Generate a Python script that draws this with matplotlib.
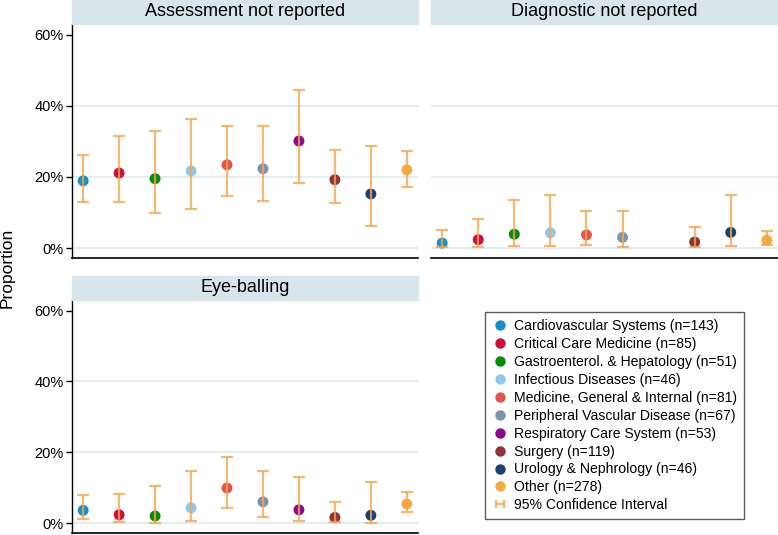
import matplotlib
matplotlib.use("Agg")
import matplotlib.pyplot as plt
from matplotlib.lines import Line2D
from matplotlib.patches import Rectangle
from matplotlib.legend_handler import HandlerLine2D
from matplotlib.ticker import PercentFormatter
import numpy as np

plt.rcParams['font.family'] = ['Liberation Sans', 'DejaVu Sans']

categories = ["Cardiovascular Systems (n=143)", "Critical Care Medicine (n=85)",
              "Gastroenterol. & Hepatology (n=51)", "Infectious Diseases (n=46)",
              "Medicine, General & Internal (n=81)", "Peripheral Vascular Disease (n=67)",
              "Respiratory Care System (n=53)", "Surgery (n=119)",
              "Urology & Nephrology (n=46)", "Other (n=278)"]
colors = ["#1b8ec2", "#c8113d", "#078a07", "#8fc8ea", "#e0554d",
          "#7d93aa", "#8a0a8a", "#8c3337", "#1c416e", "#f2ac42"]

panel_titles = ["Assessment not reported", "Diagnostic not reported", "Eye-balling"]

# proportions and 95% CI (lower, upper)
assess_p = [0.189, 0.211, 0.195, 0.217, 0.234, 0.223, 0.301, 0.192, 0.152, 0.220]
assess_lo = [0.129, 0.130, 0.099, 0.109, 0.147, 0.131, 0.184, 0.128, 0.063, 0.173]
assess_hi = [0.263, 0.314, 0.330, 0.364, 0.342, 0.342, 0.444, 0.275, 0.288, 0.273]

diag_p = [0.014, 0.0235, 0.039, 0.043, 0.037, 0.030, np.nan, 0.017, 0.044, 0.022]
diag_lo = [0.002, 0.003, 0.005, 0.0056, 0.0075, 0.004, np.nan, 0.002, 0.0056, 0.008]
diag_hi = [0.050, 0.083, 0.135, 0.149, 0.105, 0.104, np.nan, 0.060, 0.149, 0.047]

eye_p = [0.036, 0.0235, 0.020, 0.043, 0.099, 0.060, 0.0375, 0.016, 0.022, 0.054]
eye_lo = [0.012, 0.003, 0.001, 0.0056, 0.043, 0.017, 0.005, 0.002, 0.001, 0.031]
eye_hi = [0.079, 0.083, 0.104, 0.147, 0.186, 0.146, 0.130, 0.060, 0.116, 0.088]

ci_color = "#f4a650"
grid_color = "#e3ecf1"
strip_color = "#d9e5ec"

W, H = 778, 535
fig = plt.figure(figsize=(W / 100, H / 100), dpi=100)


def make_ax(x0, x1, ytop, ybot):
    return fig.add_axes([x0 / W, 1 - ybot / H, (x1 - x0) / W, (ybot - ytop) / H])


panels = [
    (make_ax(72, 418, 24, 258), assess_p, assess_lo, assess_hi, True),
    (make_ax(431, 778, 24, 258), diag_p, diag_lo, diag_hi, False),
    (make_ax(72, 418, 300, 533), eye_p, eye_lo, eye_hi, True),
]

x = np.arange(1, len(categories) + 1)
for (ax, p, lo, hi, show_y), title in zip(panels, panel_titles):
    p = np.array(p)
    lo = np.array(lo)
    hi = np.array(hi)
    ax.scatter(x, p, s=62, c=colors, zorder=3, linewidths=0)
    ax.errorbar(x, p, yerr=[p - lo, hi - p], fmt='none', ecolor=ci_color,
                elinewidth=1.6, capsize=4.5, capthick=1.6, alpha=0.8, zorder=4)
    ax.set_xlim(0.69, 10.31)
    ax.set_ylim(-0.028, 0.63)
    ax.set_yticks([0, 0.2, 0.4, 0.6])
    ax.yaxis.set_major_formatter(PercentFormatter(1.0, decimals=0))
    ax.set_xticks([])
    ax.grid(axis='y', color=grid_color, linewidth=1.5, zorder=0)
    ax.yaxis.get_gridlines()[-1].set_visible(False)
    ax.set_axisbelow(True)
    for s in ['top', 'right']:
        ax.spines[s].set_visible(False)
    ax.spines['bottom'].set_linewidth(1.2)
    ax.spines['left'].set_linewidth(1.0)
    ax.tick_params(axis='y', labelsize=10.5, length=4, width=1, pad=2)
    if not show_y:
        ax.spines['left'].set_visible(False)
        ax.tick_params(axis='y', left=False, labelleft=False)
    # strip header
    bb = ax.get_position()
    strip_h = 24 / H
    fig.patches.append(Rectangle((bb.x0, bb.y1), bb.width, strip_h,
                                 transform=fig.transFigure, color=strip_color,
                                 zorder=0))
    fig.text(bb.x0 + bb.width / 2, bb.y1 + strip_h / 2, title,
             ha='center', va='center', fontsize=13)

fig.text(0.009, 0.5, "Proportion", rotation=90, ha='center', va='center', fontsize=12.5)

handles = [Line2D([], [], linestyle='none', marker='o', markersize=7.5,
                  markerfacecolor=c, markeredgewidth=0) for c in colors]
ci_handle = Line2D([], [], color=ci_color, lw=1.6, marker='|', markersize=6,
                   markeredgewidth=1.6, alpha=0.8)
leg = fig.legend(handles + [ci_handle], categories + ["95% Confidence Interval"],
                 loc='upper left', bbox_to_anchor=(485 / W, 1 - 312 / H),
                 bbox_transform=fig.transFigure, fontsize=10.1, frameon=True,
                 fancybox=False, edgecolor='#333333', handlelength=1.15,
                 handletextpad=0.45, labelspacing=0.28, borderpad=0.5,
                 borderaxespad=0, handler_map={ci_handle: HandlerLine2D(numpoints=2)})
leg.get_frame().set_linewidth(1.0)

fig.savefig("out.png", dpi=100)
